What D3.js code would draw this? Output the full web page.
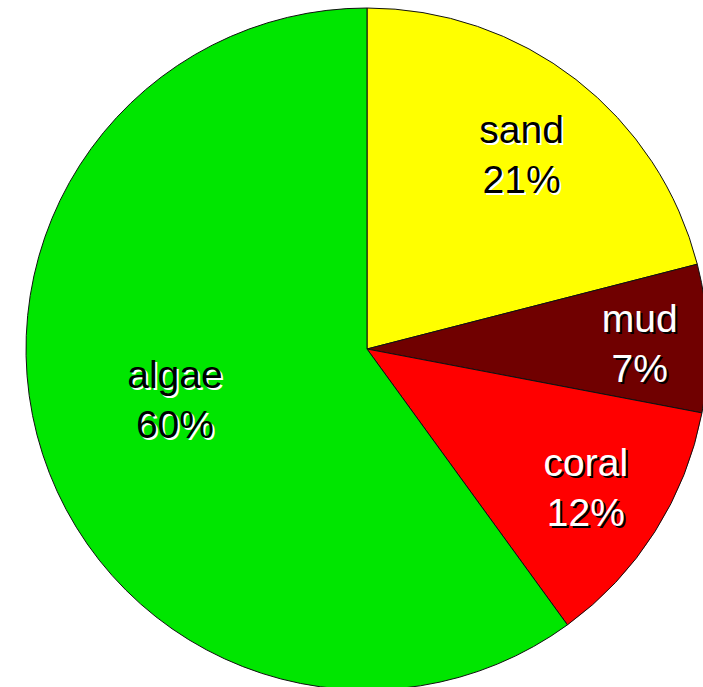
<!DOCTYPE html>
<html>
<head>
<meta charset="utf-8">
<script src="https://cdn.jsdelivr.net/npm/d3@7"></script>
<style>
  body { margin: 0; background: #fff; }
  svg { display: block; }
</style>
</head>
<body>
<script>
// slice data, clockwise from 12 o'clock
var categories = ["sand", "mud", "coral", "algae"];
var shares = [21, 7, 12, 60];
var colors = ["#ffff00", "#700000", "#ff0000", "#00e600"];
var textColors = ["#000", "#fff", "#fff", "#000"];

var width = 703, height = 687;
var cx = 367, cy = 349, radius = 341;
// label distance from center (fraction of radius) plus small nudges
var labelFrac = [0.73, 0.8, 0.76, 0.58];
var nudge = [[2, 3], [0, 4], [0, 0], [-4, -10]];

var svg = d3.select("body").append("svg")
    .attr("width", width)
    .attr("height", height);

var g = svg.append("g")
    .attr("transform", "translate(" + cx + "," + cy + ")");

var pie = d3.pie().sort(null).value(function(d) { return d; });
var arcs = pie(shares);

var arc = d3.arc().innerRadius(0).outerRadius(radius);

g.selectAll("path.slice")
  .data(arcs)
  .enter().append("path")
    .attr("class", "slice")
    .attr("d", arc)
    .attr("fill", function(d, i) { return colors[i]; })
    .attr("stroke", "#111")
    .attr("stroke-width", 1);

// labels, drawn twice: a shadow copy offset down-right, then the text itself
arcs.forEach(function(d, i) {
  var mid = (d.startAngle + d.endAngle) / 2;
  var r = radius * labelFrac[i];
  var x = r * Math.sin(mid) + nudge[i][0], y = -r * Math.cos(mid) + nudge[i][1];
  var lines = [categories[i], shares[i] + "%"];
  var shadow = textColors[i] == "#000" ? "#fff" : "#000";
  [[2, 2, shadow], [0, 0, textColors[i]]].forEach(function(s) {
    var t = g.append("text")
        .attr("text-anchor", "middle")
        .attr("font-family", "Liberation Sans, Arial, sans-serif")
        .attr("font-size", 39)
        .attr("fill", s[2]);
    lines.forEach(function(line, k) {
      t.append("tspan")
        .attr("x", x + s[0])
        .attr("y", y + s[1] + (k == 0 ? -12 : 38))
        .text(line);
    });
  });
});
</script>
</body>
</html>
